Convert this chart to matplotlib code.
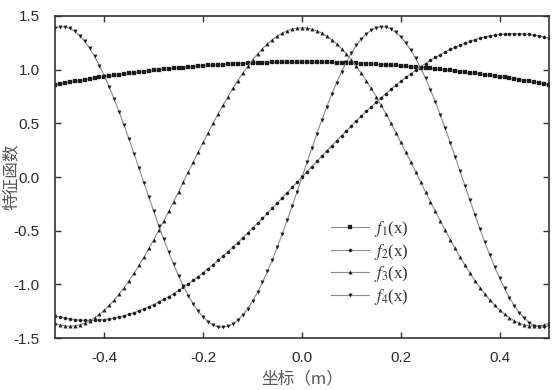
import matplotlib
matplotlib.use("Agg")
import matplotlib.pyplot as plt
import numpy as np

plt.rcParams['font.family'] = ['Liberation Sans', 'Noto Sans CJK SC', 'DejaVu Sans']
plt.rcParams['axes.unicode_minus'] = False
plt.rcParams['mathtext.fontset'] = 'stix'

x_start, x_stop, n_pts = -0.5, 0.5, 101

f1 = [0.860,0.868,0.876,0.884,0.892,0.899,0.906,0.913,0.920,0.927,
      0.934,0.941,0.947,0.953,0.959,0.965,0.971,0.977,0.982,0.988,
      0.993,0.998,1.003,1.007,1.012,1.016,1.020,1.024,1.028,1.032,
      1.035,1.039,1.042,1.045,1.048,1.050,1.053,1.055,1.057,1.059,
      1.061,1.063,1.064,1.066,1.067,1.068,1.069,1.069,1.070,1.070,
      1.070,
      1.070,1.070,1.069,1.069,1.068,1.067,1.066,1.064,1.063,1.061,
      1.059,1.057,1.055,1.053,1.050,1.048,1.045,1.042,1.039,1.035,
      1.032,1.028,1.024,1.020,1.016,1.012,1.007,1.003,0.998,0.993,
      0.988,0.982,0.977,0.971,0.965,0.959,0.953,0.947,0.941,0.934,
      0.927,0.920,0.913,0.906,0.899,0.892,0.884,0.876,0.868,0.860]

f2 = [-1.293,-1.304,-1.314,-1.322,-1.328,-1.333,-1.335,-1.336,-1.335,-1.332,
      -1.328,-1.322,-1.313,-1.304,-1.292,-1.279,-1.264,-1.247,-1.229,-1.209,
      -1.188,-1.164,-1.140,-1.114,-1.086,-1.057,-1.026,-0.994,-0.961,-0.927,
      -0.891,-0.855,-0.816,-0.777,-0.737,-0.696,-0.654,-0.611,-0.567,-0.522,
      -0.477,-0.431,-0.385,-0.338,-0.290,-0.242,-0.194,-0.146,-0.097,-0.049,
      0.000,
      0.049,0.097,0.146,0.194,0.242,0.290,0.338,0.385,0.431,0.477,
      0.522,0.567,0.611,0.654,0.696,0.737,0.777,0.816,0.855,0.891,
      0.927,0.961,0.994,1.026,1.057,1.086,1.114,1.140,1.164,1.188,
      1.209,1.229,1.247,1.264,1.279,1.292,1.304,1.313,1.322,1.328,
      1.332,1.335,1.336,1.335,1.333,1.328,1.322,1.314,1.304,1.293]

f3 = [-1.363,-1.378,-1.387,-1.390,-1.387,-1.377,-1.362,-1.340,-1.312,-1.279,
      -1.240,-1.195,-1.145,-1.089,-1.030,-0.965,-0.896,-0.823,-0.746,-0.666,
      -0.583,-0.498,-0.410,-0.321,-0.230,-0.138,-0.045,0.048,0.140,0.232,
      0.323,0.413,0.501,0.586,0.669,0.749,0.825,0.898,0.967,1.031,
      1.091,1.146,1.196,1.241,1.280,1.313,1.341,1.362,1.378,1.387,
      1.390,
      1.387,1.378,1.362,1.341,1.313,1.280,1.241,1.196,1.146,1.091,
      1.031,0.967,0.898,0.825,0.749,0.669,0.586,0.501,0.413,0.323,
      0.232,0.140,0.048,-0.045,-0.138,-0.230,-0.321,-0.410,-0.498,-0.583,
      -0.666,-0.746,-0.823,-0.896,-0.965,-1.030,-1.089,-1.145,-1.195,-1.240,
      -1.279,-1.312,-1.340,-1.362,-1.377,-1.387,-1.390,-1.387,-1.378,-1.363]

f4 = [1.387,1.399,1.398,1.384,1.356,1.316,1.264,1.200,1.124,1.038,
      0.942,0.838,0.725,0.606,0.481,0.351,0.218,0.083,-0.053,-0.188,
      -0.321,-0.452,-0.578,-0.699,-0.813,-0.920,-1.018,-1.106,-1.184,-1.251,
      -1.306,-1.348,-1.379,-1.396,-1.400,-1.391,-1.368,-1.333,-1.286,-1.226,
      -1.155,-1.073,-0.981,-0.879,-0.770,-0.653,-0.530,-0.402,-0.270,-0.136,
      0.000,
      0.136,0.270,0.402,0.530,0.653,0.770,0.879,0.981,1.073,1.155,
      1.226,1.286,1.333,1.368,1.391,1.400,1.396,1.379,1.348,1.306,
      1.251,1.184,1.106,1.018,0.920,0.813,0.699,0.578,0.452,0.321,
      0.188,0.053,-0.083,-0.218,-0.351,-0.481,-0.606,-0.725,-0.838,-0.942,
      -1.038,-1.124,-1.200,-1.264,-1.316,-1.356,-1.384,-1.398,-1.399,-1.387]

series_labels = [r'$f_1$(x)', r'$f_2$(x)', r'$f_3$(x)', r'$f_4$(x)']
x_ticks = [-0.4, -0.2, 0.0, 0.2, 0.4]
x_tick_labels = ['-0.4', '-0.2', '0.0', '0.2', '0.4']
y_ticks = [-1.5, -1.0, -0.5, 0.0, 0.5, 1.0, 1.5]
y_tick_labels = ['-1.5', '-1.0', '-0.5', '0.0', '0.5', '1.0', '1.5']
x_label = '坐标（m）'
y_label = '特征函数'

x = np.linspace(x_start, x_stop, n_pts)

fig = plt.figure(figsize=(5.54, 3.90), dpi=100)
ax = fig.add_axes([0.0993, 0.1333, 0.8917, 0.8257])

markers = ['s', 'o', '^', 'v']
msizes = [2.5, 2.3, 2.5, 2.5]
for ys, mk, ms, lab in zip([f1, f2, f3, f4], markers, msizes, series_labels):
    ax.plot(x, ys, color='#8c8c8c', lw=0.8, marker=mk, ms=ms,
            mfc='#1a1a1a', mec='#1a1a1a', mew=0.2, label=lab)

ax.set_xlim(-0.5, 0.5)
ax.set_ylim(-1.5, 1.5)
ax.set_xticks(x_ticks)
ax.set_xticklabels(x_tick_labels)
ax.set_yticks(y_ticks)
ax.set_yticklabels(y_tick_labels)
ax.tick_params(direction='in', length=4, width=1.0, color='#333333',
               labelsize=11, labelcolor='#2a2a2a', top=True, right=True)
ax.tick_params(axis='x', pad=9)
ax.tick_params(axis='y', pad=11)
for sp in ax.spines.values():
    sp.set_linewidth(1.2)
    sp.set_color('#333333')

ax.set_xlabel(x_label, fontsize=12, family=['Noto Sans CJK SC', 'DejaVu Sans'],
              color='#555555', va='center')
ax.xaxis.set_label_coords(0.5, -0.127)
ax.set_ylabel(y_label, fontsize=12, family=['Noto Sans CJK SC', 'DejaVu Sans'],
              color='#555555', va='center')
ax.yaxis.set_label_coords(-0.088, 0.5)

leg = ax.legend(loc='upper left', bbox_to_anchor=(0.545, 0.39), frameon=False,
                prop={'family': 'Liberation Serif', 'size': 12},
                handlelength=2.3, handletextpad=0.3, labelspacing=0.15,
                borderaxespad=0)
for t in leg.get_texts():
    t.set_color('#333333')

fig.savefig('out.png', dpi=100)
